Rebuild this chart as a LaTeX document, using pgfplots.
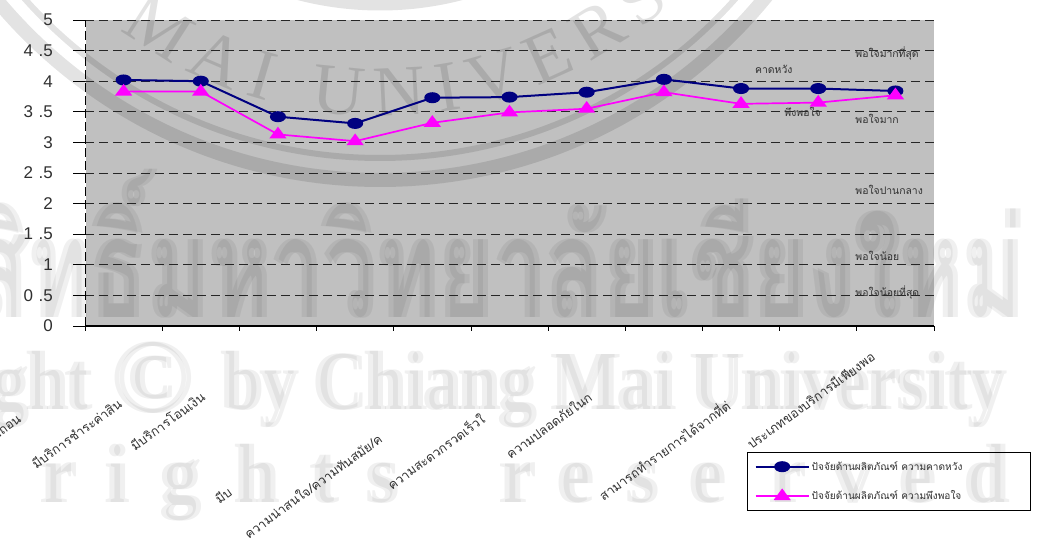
\documentclass[border=0pt]{standalone}
\usepackage{fontspec}
\usepackage{pgfplots}
\pgfplotsset{compat=1.18}
\usetikzlibrary{decorations.text}
\setmainfont{Liberation Sans}
\newfontfamily\thaifont[Script=Thai]{Loma}
\newfontfamily\wmserif{Liberation Serif}
\definecolor{plotgrey}{HTML}{C0C0C0}
\definecolor{labelgrey}{HTML}{303030}
\definecolor{seriesnavy}{HTML}{000080}
\definecolor{seriesmagenta}{HTML}{FF00FF}
\pgfplotstableread{
x    expect  satisfied
0.5  4.02    3.83
1.5  4.00    3.83
2.5  3.42    3.13
3.5  3.31    3.02
4.5  3.73    3.32
5.5  3.74    3.49
6.5  3.82    3.55
7.5  4.03    3.82
8.5  3.88    3.63
9.5  3.88    3.65
10.5 3.84    3.77
}\factors
\newcommand{\thaisize}{\fontsize{10.4}{11}\selectfont\thaifont}
\begin{document}
\begin{tikzpicture}[x=1pt,y=1pt]
\useasboundingbox (0,0) rectangle (1058,540);
\clip (0,0) rectangle (1058,540);
\fill[plotgrey] (86,214) rectangle (934,520);
% faint university seal and rights notice behind the plot
\begin{scope}[opacity=0.11]
  \draw[line width=14pt] (380,858) circle[radius=498];
  \draw[line width=6pt] (380,858) circle[radius=476];
  \draw[line width=11pt] (380,858) circle[radius=323];
  \path[decorate,decoration={text along path,text align=fit to path,
      text={|\fontsize{72}{72}\wmserif|CHIANG MAI UNIVERSITY}}]
      (380,858)++(182:434) arc[start angle=182,end angle=333,radius=434];
\end{scope}
\begin{scope}[opacity=0.06]
  \foreach \dx in {0,5}{
    \node[anchor=base east,inner sep=0pt,xscale=0.67,font=\fontsize{140}{150}\selectfont\thaifont\bfseries]
      at (1022+\dx,222) {ลิขสิทธิ์มหาวิทยาลัยเชียงใหม่};
    \node[anchor=base east,inner sep=0pt,xscale=0.84,font=\fontsize{84}{90}\selectfont\wmserif\bfseries]
      at (88+\dx,130) {Copyright};
    \node[anchor=base,inner sep=0pt,font=\fontsize{106}{110}\selectfont\wmserif\bfseries]
      at (150+\dx,127) {©};
    \node[anchor=base east,inner sep=0pt,xscale=0.84,font=\fontsize{84}{90}\selectfont\wmserif\bfseries]
      at (1003+\dx,130) {by Chiang Mai University};
    \foreach \c/\x in {r/56,i/115,g/178,h/255,t/322,s/380,r/515,e/573,s/640,e/705,r/785,v/850,e/915,d/985}{
      \node[anchor=base,inner sep=0pt,xscale=0.9,font=\fontsize{84}{90}\selectfont\wmserif\bfseries]
        at (\x+\dx,37) {\c};
    }
  }
\end{scope}
\begin{axis}[
  scale only axis,width=849pt,height=306pt,
  at={(85pt,214pt)},anchor=south west,
  xmin=0,xmax=11,ymin=0,ymax=5,
  axis x line=bottom,axis y line=left,
  x axis line style={-,line width=1.1pt,black},
  y axis line style={-,line width=1pt,black,dash pattern=on 9pt off 4pt},
  xtick={0,...,11},xticklabel=\empty,
  ytick={0,0.5,...,5},
  yticklabels={0,0\,\,.5,1,1\,\,.5,2,2\,\,.5,3,3\,\,.5,4,4\,\,.5,5},
  tick align=outside,
  major tick length=12pt,
  xtick style={black,line width=0.8pt,/pgfplots/major tick length=5pt},
  ytick style={black,line width=0.8pt},
  /pgf/number format/assume math mode=true,
  yticklabel style={font=\fontsize{17}{17}\selectfont,text=labelgrey,inner sep=0pt},
  yticklabel shift=20pt,
  ymajorgrids,
  grid style={black!85,line width=0.8pt,dash pattern=on 9pt off 5pt},
  axis on top=false,
  clip=false,
  legend cell align=left,
  legend style={
    at={(0.78,-0.412)},anchor=north west,
    draw=black,line width=0.9pt,fill=none,
    inner xsep=7pt,inner ysep=7pt,row sep=15pt,
    /tikz/column sep=0pt,nodes={inner xsep=2pt},
    font=\fontsize{10.1}{11}\selectfont\thaifont,text=labelgrey,
  },
  legend image code/.code={
    \draw[#1,mark=none] (0pt,0pt) -- (53pt,0pt);
    \draw[#1,only marks] plot coordinates {(26.5pt,0pt)};
  },
]
\addplot[seriesnavy,line width=2pt,mark=*,mark size=5pt,
  mark options={xscale=1.4,yscale=0.9,solid,fill=seriesnavy}] table[x=x,y=expect] {\factors};
\addplot[seriesmagenta,line width=1.7pt,mark=triangle*,mark size=7pt,
  mark options={xscale=1.15,yscale=0.9,solid,fill=seriesmagenta}] table[x=x,y=satisfied] {\factors};
\legend{ปัจจัยด้านผลิตภัณฑ์ ความคาดหวัง\hspace*{59pt},ปัจจัยด้านผลิตภัณฑ์ ความพึงพอใจ}
% rating band names and the two series tags
\node[anchor=west,inner sep=0pt,font=\thaisize,text=labelgrey] at (axis cs:9.98,4.45) {พอใจมากที่สุด};
\node[anchor=west,inner sep=0pt,font=\thaisize,text=labelgrey] at (axis cs:9.98,3.38) {พอใจมาก};
\node[anchor=west,inner sep=0pt,font=\thaisize,text=labelgrey] at (axis cs:9.98,2.23) {พอใจปานกลาง};
\node[anchor=west,inner sep=0pt,font=\thaisize,text=labelgrey] at (axis cs:9.98,1.15) {พอใจน้อย};
\node[anchor=west,inner sep=0pt,font=\thaisize,text=labelgrey] at (axis cs:9.98,0.55) {พอใจน้อยที่สุด};
\node[anchor=west,inner sep=0pt,font=\thaisize,text=labelgrey] at (axis cs:8.68,4.2) {คาดหวัง};
\node[anchor=west,inner sep=0pt,font=\thaisize,text=labelgrey] at (axis cs:9.06,3.5) {พึงพอใจ};
\end{axis}
% slanted factor names, cut short as in a narrow label cell
\begin{scope}[every node/.style={anchor=east,inner sep=0pt,rotate=36,font=\fontsize{12.8}{14}\selectfont\thaifont,text=labelgrey}]
  \node at (20,122) {ความถอน};
  \node at (120,138) {มีบริการชำระค่าสิน};
  \node at (203,145) {มีบริการโอนเงิน};
  \node at (230,50) {มีบ};
  \node at (380,103) {ความน่าสนใจ/ความทันสมัย/ค};
  \node at (483,123) {ความสะดวกรวดเร็วใ};
  \node at (590,145) {ความปลอดภัยในก};
  \node at (728,137) {สามารถทำรายการได้จากที่ต่};
  \node at (873,185) {ประเภทของบริการมีเพียงพอ};
\end{scope}
\end{tikzpicture}
\end{document}
